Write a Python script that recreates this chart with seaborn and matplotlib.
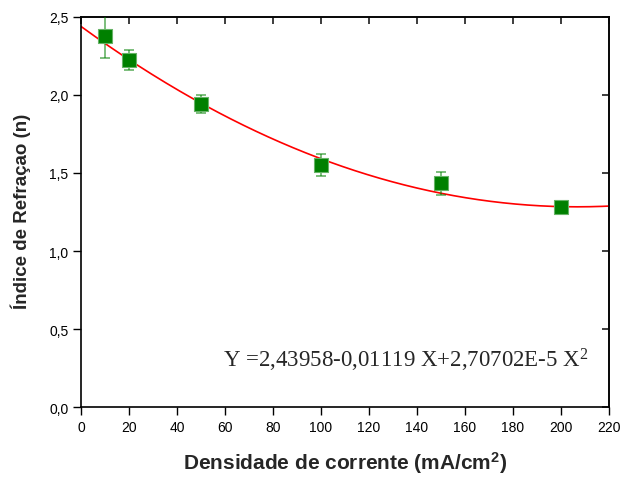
import numpy as np
import pandas as pd
import matplotlib
matplotlib.use("Agg")
import matplotlib.pyplot as plt
import seaborn as sns

# Data
densidade = [10, 20, 50, 100, 150, 200]
indice = [2.378, 2.224, 1.940, 1.553, 1.434, 1.284]
erro = [0.14, 0.065, 0.058, 0.072, 0.075, 0.0]

# Polynomial fit coefficients shown in the chart (c0, c1, c2)
coef = [2.43958, -0.01119, 2.70702e-5]

x_ticks = [0, 20, 40, 60, 80, 100, 120, 140, 160, 180, 200, 220]
y_ticks = [0.0, 0.5, 1.0, 1.5, 2.0, 2.5]

sns.set_theme(style="white")
plt.rcParams['font.family'] = ['Liberation Sans', 'DejaVu Sans']

fig = plt.figure(figsize=(6.38, 4.81), dpi=100)
ax = fig.add_axes([81/638, 1-408/481, 528/638, 390/481])

df = pd.DataFrame({"x": densidade, "y": indice, "e": erro})

# fit curve
xf = np.linspace(0, 220, 300)
yf = np.polyval(coef[::-1], xf)
sns.lineplot(x=xf, y=yf, ax=ax, color="red", linewidth=1.2, zorder=2)

ax.errorbar(df["x"], df["y"], yerr=df["e"], fmt="none", ecolor="#008000",
            alpha=0.6, elinewidth=1.2, capsize=3.5, capthick=1.2, zorder=3)
sns.scatterplot(data=df, x="x", y="y", ax=ax, marker="s", s=95,
                color="#008000", edgecolor="#66b366", linewidth=0.8, zorder=4)

ax.set_xlim(0, 220)
ax.set_ylim(0, 2.5)
ax.set_xticks(x_ticks)
ax.set_yticks(y_ticks)
ax.set_xticklabels([str(v) for v in x_ticks])
ax.set_yticklabels([f"{v:.1f}".replace(".", ",") for v in y_ticks])

for s in ax.spines.values():
    s.set_visible(True)
    s.set_color("black")
    s.set_linewidth(1.2)

ax.tick_params(axis="both", which="major", direction="out", length=6, width=1,
               labelsize=10, colors="black", bottom=True, left=True, pad=3)
sec_x = ax.secondary_xaxis("top")
sec_x.set_xticks(x_ticks)
sec_x.tick_params(direction="in", length=5, labeltop=False)
sec_x.set_xticklabels([])
sec_y = ax.secondary_yaxis("right")
sec_y.set_yticks(y_ticks)
sec_y.tick_params(direction="in", length=5, labelright=False)
sec_y.set_yticklabels([])
for sa in (sec_x, sec_y):
    for s in sa.spines.values():
        s.set_linewidth(1.2)

ax.set_xlabel(r"Densidade de corrente (mA/cm$\mathregular{^2}$)", fontsize=15,
              fontweight="bold", labelpad=11)
ax.set_ylabel("Índice de Refraçao (n)", fontsize=13.5, fontweight="bold")
ax.yaxis.set_label_coords(-0.095, 0.505)

ax.text(0.269, 0.105, r"Y =2,43958-0,01119 X+2,70702E-5 X$\mathregular{^2}$",
        transform=ax.transAxes, fontsize=16.5, family="Liberation Serif",
        ha="left", va="baseline")

fig.savefig("out.png", dpi=100)
